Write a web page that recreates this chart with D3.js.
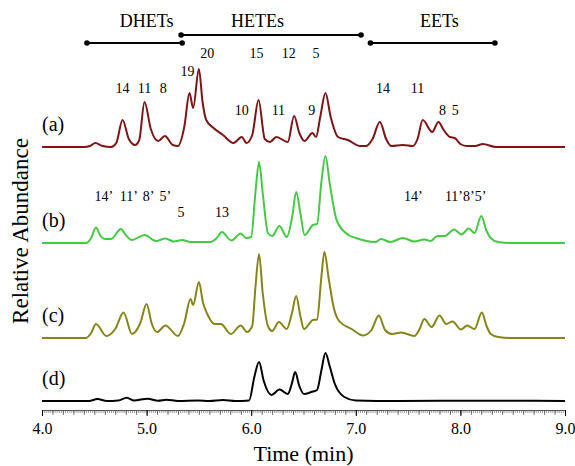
<!DOCTYPE html>
<html>
<head>
<meta charset="utf-8">
<script src="https://cdn.jsdelivr.net/npm/d3@7"></script>
<style>
  body { margin: 0; background: #fff; }
  svg { display: block; font-family: "Liberation Serif", "Times New Roman", serif; }
</style>
</head>
<body>
<div id="chart"></div>
<script>
// chromatogram traces: [time (min), relative abundance]
var traceA = [[4.00,0],[4.40,0],[4.46,1],[4.51,4],[4.58,1],[4.66,0],[4.71,4],[4.77,27],[4.83,8],[4.89,2],[4.93,7],[4.98,45],[5.04,18],[5.11,6],[5.175,11],[5.25,2],[5.30,1],[5.36,20],[5.41,54],[5.445,39],[5.50,78],[5.535,45],[5.57,27],[5.64,19],[5.73,12],[5.83,4],[5.91,10],[5.955,4],[6.01,12],[6.07,47],[6.13,8],[6.18,5],[6.24,10],[6.35,5],[6.41,31],[6.46,14],[6.51,6],[6.585,14],[6.62,10],[6.66,30],[6.71,54],[6.76,30],[6.83,10],[6.925,7],[7.04,1],[7.10,1],[7.16,8],[7.23,25],[7.29,8],[7.34,1],[7.45,2],[7.545,1],[7.59,8],[7.64,27],[7.73,15],[7.79,25],[7.84,17],[7.90,10],[7.945,9],[8.00,3],[8.06,1],[8.14,1],[8.215,3],[8.34,0],[9.00,0]];
var traceB = [[4.00,0],[4.42,0],[4.47,5],[4.516,15.5],[4.56,7],[4.60,4],[4.66,4],[4.755,14],[4.80,8],[4.86,3],[4.98,8],[5.09,2],[5.18,4.5],[5.26,1.5],[5.34,3],[5.42,1],[5.61,1],[5.67,5],[5.72,11],[5.81,2.5],[5.90,9.5],[5.95,5],[6.00,6],[6.04,50],[6.075,81],[6.11,50],[6.16,10],[6.20,7],[6.27,17],[6.34,6],[6.39,25],[6.43,51],[6.47,30],[6.51,8],[6.59,18],[6.63,19],[6.67,60],[6.71,87],[6.75,60],[6.82,22],[6.93,8],[7.00,5],[7.10,2],[7.19,1],[7.24,4],[7.33,1],[7.45,5],[7.56,1.5],[7.655,3.5],[7.715,2],[7.78,7],[7.85,7],[7.94,13.5],[8.01,8.5],[8.08,14.5],[8.135,10],[8.20,27],[8.25,12],[8.29,5],[8.36,1],[8.50,0],[9.00,0]];
var traceC = [[4.00,0],[4.42,0],[4.47,5],[4.516,14],[4.615,2],[4.70,9],[4.78,25.5],[4.86,4],[4.94,15],[5.00,34],[5.05,14],[5.10,6],[5.18,12.5],[5.30,2],[5.36,15],[5.42,39],[5.445,33],[5.50,56],[5.54,35],[5.58,24],[5.65,14],[5.71,14],[5.805,4],[5.90,12.5],[5.96,6],[6.01,12],[6.04,50],[6.075,84],[6.11,45],[6.16,12],[6.20,7],[6.265,16],[6.34,9],[6.39,25],[6.43,42],[6.47,22],[6.505,9],[6.59,18],[6.63,18.5],[6.67,60],[6.70,86],[6.74,60],[6.79,30],[6.84,17],[6.96,9],[7.07,2.5],[7.15,8],[7.22,22.5],[7.28,8],[7.345,4],[7.435,5.5],[7.56,2],[7.61,9],[7.655,19],[7.725,11],[7.80,22.5],[7.865,14],[7.925,16.5],[8.005,8.5],[8.065,12.5],[8.135,9],[8.205,25.5],[8.25,12],[8.29,4],[8.36,1],[8.50,0],[9.00,0]];
var traceD = [[4.00,0],[4.45,0],[4.53,2],[4.62,0],[4.73,0.5],[4.81,3.3],[4.88,0.5],[5.01,2.3],[5.11,0.3],[5.19,1.3],[5.30,0],[5.49,0.5],[5.60,0],[5.73,1],[5.85,0],[5.98,0.5],[6.03,24],[6.075,39],[6.12,20],[6.195,6],[6.27,11.5],[6.35,7],[6.39,18],[6.42,29],[6.46,15],[6.505,7],[6.575,9],[6.63,11],[6.67,30],[6.71,48],[6.75,35],[6.80,17],[6.89,4],[7.00,0.5],[7.40,0],[8.20,0.3],[9.00,0]];

var traceNames = ["(a)", "(b)", "(c)", "(d)"];
var traceColors = ["#7d1416", "#46c846", "#86851a", "#000000"];

// compound classes [label, start, end]
var groups = [["DHETs", 4.43, 5.34], ["HETEs", 5.33, 7.05], ["EETs", 7.14, 8.33]];

// peak labels [text, time, trace row]
var peakLabels = [
  ["20", 5.58, 0], ["15", 6.05, 0], ["12", 6.36, 0], ["5", 6.62, 0],
  ["19", 5.39, 1], ["14", 4.77, 2], ["11", 4.98, 2], ["8", 5.16, 2],
  ["14", 7.26, 2], ["11", 7.59, 2], ["10", 5.91, 3], ["11", 6.26, 3], ["9", 6.58, 3],
  ["8", 7.83, 3], ["5", 7.95, 3]
];
var peakLabelsB = [
  ["14\u2019", 4.59, 0], ["11\u2019", 4.83, 0], ["8\u2019", 5.02, 0], ["5\u2019", 5.18, 0],
  ["5", 5.33, 1], ["13", 5.72, 1], ["14\u2019", 7.55, 0], ["11\u20198\u20195\u2019", 8.05, 0]
];

var width = 575, height = 466;
var baselines = [147, 243, 338, 401];

var svg = d3.select("#chart").append("svg")
    .attr("width", width)
    .attr("height", height);

var x = d3.scaleLinear().domain([4, 9]).range([42, 565]);

var line = d3.line().curve(d3.curveMonotoneX);

[traceA, traceB, traceC, traceD].forEach(function(data, i) {
  var y = d3.scaleLinear().domain([0, 100]).range([baselines[i], baselines[i] - 100]);
  line.x(d => x(d[0])).y(d => y(d[1]));
  svg.append("path")
    .datum(data)
    .attr("fill", "none")
    .attr("stroke", traceColors[i])
    .attr("stroke-width", 2)
    .attr("stroke-linejoin", "round")
    .attr("d", line);
  svg.append("text")
    .attr("x", 42)
    .attr("y", baselines[i] - 16)
    .attr("font-size", 20)
    .text(traceNames[i]);
});

// ruler style axis
var axisY = 410;
var minor = d3.range(0, 251).map(i => 4 + i * 0.02);
var mid = d3.range(0, 51).map(i => 4 + i * 0.1);
svg.append("g")
    .attr("transform", `translate(0,${axisY})`)
    .call(d3.axisBottom(x).tickValues(minor).tickSize(3).tickFormat(""))
    .call(g => g.select(".domain").remove())
    .call(g => g.selectAll("line").attr("stroke", "#555").attr("stroke-width", 0.6));
svg.append("g")
    .attr("transform", `translate(0,${axisY})`)
    .call(d3.axisBottom(x).tickValues(mid).tickSize(5).tickFormat(""))
    .call(g => g.select(".domain").remove())
    .call(g => g.selectAll("line").attr("stroke", "#555").attr("stroke-width", 0.8));
svg.append("g")
    .attr("transform", `translate(0,${axisY})`)
    .call(d3.axisBottom(x).tickValues([4, 5, 6, 7, 8, 9]).tickSize(6).tickSizeOuter(0).tickFormat(d3.format(".1f")))
    .call(g => g.select(".domain").attr("stroke", "#555"))
    .call(g => g.selectAll("text")
        .attr("font-family", "Liberation Serif, serif")
        .attr("font-size", 16)
        .attr("fill", "#000")
        .attr("dy", "0.95em"));

svg.append("text")
    .attr("x", (x(4) + x(9)) / 2)
    .attr("y", 461)
    .attr("text-anchor", "middle")
    .attr("font-size", 22)
    .text("Time (min)");

svg.append("text")
    .attr("transform", "translate(28,231) rotate(-90)")
    .attr("text-anchor", "middle")
    .attr("font-size", 23)
    .text("Relative Abundance");

// class brackets
var bracketY = [43, 35, 43];
groups.forEach(function(gr, i) {
  var g = svg.append("g");
  g.append("line")
    .attr("x1", x(gr[1])).attr("x2", x(gr[2]))
    .attr("y1", bracketY[i]).attr("y2", bracketY[i])
    .attr("stroke", "#000").attr("stroke-width", 1.8);
  g.selectAll("circle")
    .data([gr[1], gr[2]])
    .join("circle")
      .attr("cx", d => x(d))
      .attr("cy", bracketY[i])
      .attr("r", 2.8)
      .attr("fill", "#000");
});
var groupLabelX = [5.0, 6.06, 7.8];
groups.forEach(function(gr, i) {
  svg.append("text")
    .attr("x", x(groupLabelX[i]))
    .attr("y", 27)
    .attr("text-anchor", "middle")
    .attr("font-size", 18)
    .text(gr[0]);
});

// peak number labels
var rowYA = [58, 76, 93, 115];
svg.append("g").selectAll("text")
  .data(peakLabels)
  .join("text")
    .attr("x", d => x(d[1]))
    .attr("y", d => rowYA[d[2]])
    .attr("text-anchor", "middle")
    .attr("font-size", 14)
    .text(d => d[0]);

var rowYB = [201, 217];
svg.append("g").selectAll("text")
  .data(peakLabelsB)
  .join("text")
    .attr("x", d => x(d[1]))
    .attr("y", d => rowYB[d[2]])
    .attr("text-anchor", "middle")
    .attr("font-size", 14)
    .text(d => d[0]);
</script>
</body>
</html>
